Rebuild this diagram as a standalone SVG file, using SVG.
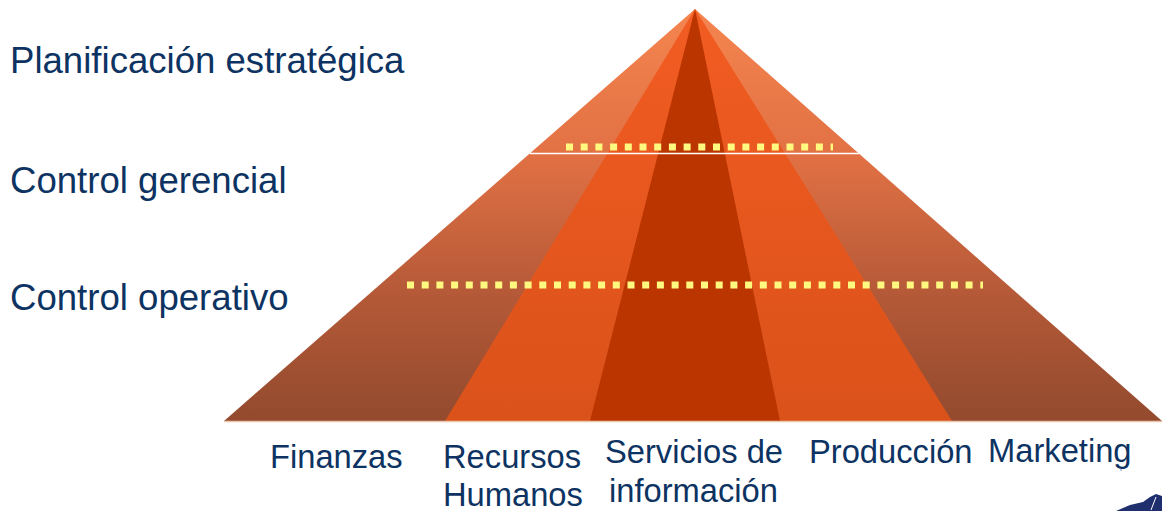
<svg xmlns="http://www.w3.org/2000/svg" width="1162" height="511" viewBox="0 0 1162 511">
<style>
.lbl{font-family:"Liberation Sans",Arial,sans-serif;fill:#0D3362}
.side{font-size:36.6px}
.bot{font-size:32.7px}
.dots{stroke:#FFF97F;stroke-width:7;stroke-dasharray:7 7.7;fill:none}
</style>
<defs>
<linearGradient id="gOuter" gradientUnits="userSpaceOnUse" x1="0" y1="9" x2="0" y2="421">
<stop offset="0" stop-color="#F5854F"/>
<stop offset="0.35" stop-color="#E27144"/>
<stop offset="0.68" stop-color="#B65A38"/>
<stop offset="1" stop-color="#934A2E"/>
</linearGradient>
<linearGradient id="gBand" gradientUnits="userSpaceOnUse" x1="0" y1="9" x2="0" y2="421">
<stop offset="0" stop-color="#F25C22"/>
<stop offset="1" stop-color="#DA521A"/>
</linearGradient>
</defs>
<g id="pyramid">
<polygon points="695,9 224,421 1162,421" fill="url(#gOuter)"/>
<polygon points="695,9 445,421 952,421" fill="url(#gBand)"/>
<polygon points="695,9 590,421 780,421" fill="#BB3500"/>
<line x1="530" y1="153.5" x2="859" y2="153.5" stroke="#FFFFFF" stroke-width="1.5"/>
<line x1="224" y1="421.5" x2="1162" y2="421.5" stroke="#E9C6AE" stroke-width="1.5"/>
</g>
<g id="connectors">
<line class="dots" x1="566" y1="147" x2="833" y2="147"/>
<line class="dots" x1="407" y1="285" x2="983" y2="285"/>
</g>
<g id="node-planificacion"><text class="lbl side" x="10" y="73">Planificación estratégica</text></g>
<g id="node-gerencial"><text class="lbl side" x="10" y="193">Control gerencial</text></g>
<g id="node-operativo"><text class="lbl side" x="10" y="310">Control operativo</text></g>
<g id="node-finanzas"><text class="lbl bot" x="270" y="468">Finanzas</text></g>
<g id="node-rrhh"><text class="lbl bot" x="443" y="468">Recursos</text><text class="lbl bot" x="443" y="506">Humanos</text></g>
<g id="node-si"><text class="lbl bot" x="605" y="463">Servicios de</text><text class="lbl bot" x="609" y="502">información</text></g>
<g id="node-produccion"><text class="lbl bot" x="809" y="463">Producción</text></g>
<g id="node-marketing"><text class="lbl bot" x="988" y="462">Marketing</text></g>
<g id="logo">
<circle cx="1121" cy="470" r="1" fill="#9FB6D8"/>
<path d="M1116,511 L1130,505 L1143,502 L1150,497 L1156,494 L1162,496 L1162,511 Z" fill="#1F2F6E"/>
<line x1="1151" y1="510" x2="1156" y2="497" stroke="#FFFFFF" stroke-width="1"/>
</g>
</svg>
